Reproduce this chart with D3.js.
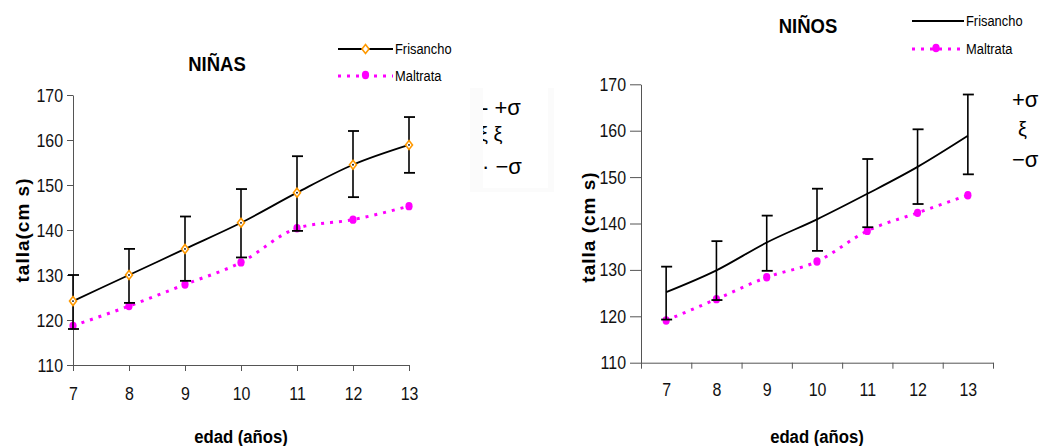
<!DOCTYPE html>
<html>
<head>
<meta charset="utf-8">
<script src="https://cdn.jsdelivr.net/npm/d3@7"></script>
<style>
  body { margin: 0; background: #fff; }
  svg text { font-family: "Liberation Sans", Arial, sans-serif; }
  .n-end, .n-mid, .n-start { transform-box: fill-box; }
  .n-end { transform-origin: right center; transform: scaleX(0.84); }
  .n-mid { transform-origin: center; transform: scaleX(0.84); }
  .n-start { transform-origin: left center; transform: scaleX(0.86); }
  .n-title { transform-box: fill-box; transform-origin: center; transform: scaleX(0.88); }
</style>
</head>
<body>
<svg id="chart" width="1044" height="446"></svg>
<script>
const ages = [7, 8, 9, 10, 11, 12, 13];
const yTicks = [110, 120, 130, 140, 150, 160, 170];

// NIÑAS
const ninasFris   = [124.2, 130.0, 135.8, 141.6, 148.3, 154.5, 158.9];
const ninasFrisHi = [130.0, 135.8, 143.0, 149.1, 156.4, 162.0, 165.1];
const ninasFrisLo = [118.0, 123.8, 128.7, 133.9, 139.8, 147.3, 152.7];
const ninasMalt   = [118.7, 123.1, 127.9, 132.8, 140.4, 142.3, 145.3];

// NIÑOS
const ninosFris   = [125.2, 129.9, 135.9, 140.9, 146.4, 152.2, 158.9];
const ninosFrisHi = [130.7, 136.2, 141.7, 147.5, 153.9, 160.3, 167.8];
const ninosFrisLo = [119.3, 123.5, 129.8, 134.1, 139.2, 144.2, 150.6];
const ninosMalt   = [119.1, 123.7, 128.4, 131.8, 138.4, 142.3, 146.1];

const svg = d3.select('#chart');
const orange = '#ff9900', magenta = '#ff00ff', axisCol = '#555';

function drawPanel(opt) {
  const g = svg.append('g');
  const x = opt.x, y = opt.y;

  // y axis
  const yAxis = g.append('g')
    .attr('transform', 'translate(' + x.range()[0] + ',0)')
    .call(d3.axisLeft(y).tickValues(yTicks).tickSize(opt.yTick).tickPadding(4).tickSizeOuter(0));
  yAxis.selectAll('text').attr('class', 'n-end').style('font-size', '19px').attr('fill', '#111');

  // x axis
  g.append('g')
    .attr('transform', 'translate(0,' + y.range()[0] + ')')
    .call(d3.axisBottom(opt.xTickScale).tickValues(opt.xTickVals).tickSize(6).tickSizeOuter(0).tickFormat(''));
  g.append('g')
    .attr('transform', 'translate(0,' + y.range()[0] + ')')
    .call(d3.axisBottom(x).tickValues(ages).tickSize(0).tickPadding(opt.xLabelPad).tickFormat(d3.format('d')))
    .call(s => s.select('.domain').remove())
    .selectAll('text').attr('class', 'n-mid').style('font-size', '19px').attr('fill', '#111');
  g.selectAll('.domain, .tick line').attr('stroke', axisCol);

  // Maltrata dotted line
  const line = d3.line().x((d, i) => x(ages[i])).y(d => y(d)).curve(d3.curveMonotoneX);
  g.append('path').datum(opt.malt)
    .attr('d', line).attr('fill', 'none')
    .attr('stroke', magenta).attr('stroke-width', 3).attr('stroke-dasharray', '3,6');
  g.selectAll('.malt').data(opt.malt).enter().append('ellipse')
    .attr('cx', (d, i) => x(ages[i])).attr('cy', d => y(d))
    .attr('rx', 3.6).attr('ry', 4.2).attr('fill', magenta);

  // Frisancho line
  g.append('path').datum(opt.fris)
    .attr('d', line).attr('fill', 'none')
    .attr('stroke', '#000').attr('stroke-width', 1.8);

  // error bars
  const eb = g.selectAll('.eb').data(ages).enter().append('g');
  eb.append('line')
    .attr('x1', d => x(d)).attr('x2', d => x(d))
    .attr('y1', (d, i) => y(opt.hi[i])).attr('y2', (d, i) => y(opt.lo[i]))
    .attr('stroke', '#000').attr('stroke-width', 1.6);
  [opt.hi, opt.lo].forEach(arr => {
    eb.append('line')
      .attr('x1', d => x(d) - 5).attr('x2', d => x(d) + 6)
      .attr('y1', (d, i) => y(arr[i])).attr('y2', (d, i) => y(arr[i]))
      .attr('stroke', '#000').attr('stroke-width', 1.8);
  });

  if (opt.diamonds) {
    const dm = g.selectAll('.dm').data(opt.fris).enter().append('g')
      .attr('transform', (d, i) => 'translate(' + x(ages[i]) + ',' + y(d) + ')');
    dm.append('path').attr('d', 'M0,-4.5L3.5,0L0,4.5L-3.5,0Z')
      .attr('fill', '#fff').attr('stroke', orange).attr('stroke-width', 1.6);
    dm.append('circle').attr('r', 0.9).attr('fill', '#000');
  }

  // titles
  g.append('text').attr('class', 'n-title').attr('x', opt.titleX).attr('y', opt.titleY)
    .attr('text-anchor', 'middle').style('font-size', '21px').style('font-weight', 'bold')
    .text(opt.title);
  g.append('text').attr('class', 'n-title').attr('x', opt.xTitleX).attr('y', 443)
    .attr('text-anchor', 'middle').style('font-size', '19px').style('font-weight', 'bold')
    .text('edad (años)');
  g.append('text')
    .attr('transform', 'translate(' + opt.yTitleX + ',' + opt.yTitleY + ') rotate(-90)')
    .attr('text-anchor', 'middle').style('font-size', '19px').style('font-weight', 'bold')
    .style('letter-spacing', '1px')
    .text(opt.yTitle);

  // legend
  const lg = g.append('g');
  const lx0 = opt.legX, lx1 = opt.legX + opt.legW, lmid = (lx0 + lx1) / 2 + opt.legMarkOff;
  lg.append('line').attr('x1', lx0).attr('x2', lx1).attr('y1', opt.legY).attr('y2', opt.legY)
    .attr('stroke', '#000').attr('stroke-width', 1.8);
  if (opt.diamonds) {
    lg.append('path').attr('transform', 'translate(' + lmid + ',' + opt.legY + ')')
      .attr('d', 'M0,-4.5L3.5,0L0,4.5L-3.5,0Z')
      .attr('fill', '#fff').attr('stroke', orange).attr('stroke-width', 1.6);
  }
  lg.append('line').attr('x1', lx0).attr('x2', lx1).attr('y1', opt.legY + opt.legGap).attr('y2', opt.legY + opt.legGap)
    .attr('stroke', magenta).attr('stroke-width', 3).attr('stroke-dasharray', '3,6');
  lg.append('ellipse').attr('cx', lmid).attr('cy', opt.legY + opt.legGap - 1)
    .attr('rx', 3.6).attr('ry', 4.2).attr('fill', magenta);
  lg.append('text').attr('class', 'n-start').attr('x', lx1 + 2).attr('y', opt.legY + 5).style('font-size', '15px').text('Frisancho');
  lg.append('text').attr('class', 'n-start').attr('x', lx1 + 2).attr('y', opt.legY + opt.legGap + 5).style('font-size', '15px')
    .text('Maltrata');
}

// left panel
drawPanel({
  title: 'NIÑAS', titleX: 217, titleY: 71,
  x: d3.scalePoint().domain(ages).range([73, 409]),
  xTickScale: d3.scalePoint().domain(ages).range([73, 409]),
  xTickVals: ages, xLabelPad: 22,
  y: d3.scaleLinear().domain([110, 170]).range([365, 95]),
  yTick: 6,
  fris: ninasFris, hi: ninasFrisHi, lo: ninasFrisLo, malt: ninasMalt,
  diamonds: true,
  xTitleX: 241, yTitleX: 29, yTitleY: 230, yTitle: 'talla(cm s)',
  legX: 338, legW: 55, legY: 49, legGap: 27, legMarkOff: 0
});

// right panel
const edgesR = d3.range(ages.length + 1).map(i => ages[0] - 0.5 + i);
drawPanel({
  title: 'NIÑOS', titleX: 808, titleY: 33,
  x: d3.scaleLinear().domain([6.5, 13.5]).range([641, 993]),
  xTickScale: d3.scaleLinear().domain([6.5, 13.5]).range([641, 993]),
  xTickVals: edgesR, xLabelPad: 20,
  y: d3.scaleLinear().domain([110, 170]).range([362.7, 84.3]),
  yTick: 11,
  fris: ninosFris, hi: ninosFrisHi, lo: ninosFrisLo, malt: ninosMalt,
  diamonds: false,
  xTitleX: 817, yTitleX: 595, yTitleY: 227, yTitle: 'talla (cm s)',
  legX: 912, legW: 52, legY: 21, legGap: 28, legMarkOff: -2
});

// sigma annotations (left, partly clipped)
svg.append('rect').attr('x', 470).attr('y', 88).attr('width', 84).attr('height', 104).attr('fill', '#fbfbfb');
svg.append('rect').attr('x', 483).attr('y', 88).attr('width', 65).attr('height', 100).attr('fill', '#fff');
svg.append('clipPath').attr('id', 'sigclip').append('rect')
  .attr('x', 483).attr('y', 88).attr('width', 70).attr('height', 104);
const sig = svg.append('g').attr('clip-path', 'url(#sigclip)')
  .style('font-family', '"DejaVu Sans", sans-serif');
sig.append('text').attr('x', 481).attr('y', 115).style('font-size', '22px').text('- +σ');
sig.append('text').attr('x', 479).attr('y', 141).style('font-size', '20px').text('ξ ξ');
sig.append('text').attr('x', 482).attr('y', 174).style('font-size', '22px').text('· −σ');

const sigR = svg.append('g').style('font-family', '"DejaVu Sans", sans-serif');
sigR.append('text').attr('x', 1012).attr('y', 107).style('font-size', '22px').text('+σ');
sigR.append('text').attr('x', 1018).attr('y', 136).style('font-size', '20px').text('ξ');
sigR.append('text').attr('x', 1012).attr('y', 167).style('font-size', '22px').text('−σ');
</script>
</body>
</html>
